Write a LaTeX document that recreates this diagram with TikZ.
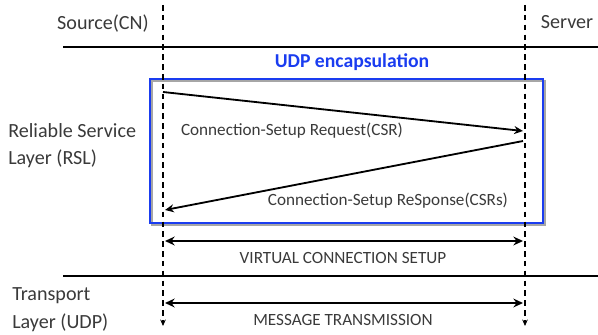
\documentclass[tikz,border=0pt]{standalone}
\usepackage{fontspec}
\setmainfont{Carlito}
\usepackage{tikz}
\usetikzlibrary{positioning,arrows.meta,calc}
\definecolor{txtgray}{HTML}{3A3A3A}
\definecolor{encblue}{HTML}{1A3CF0}
\tikzset{
  lifeline/.style={line width=1.4pt, dash pattern=on 4pt off 3pt, -{Stealth[length=1.6mm,width=1.4mm]}},
  layerline/.style={line width=0.8pt},
  msgarrow/.style={-{Stealth[length=2.2mm,width=2mm]}, line width=1.3pt},
  spanarrow/.style={{Stealth[length=2.4mm,width=2.2mm]}-{Stealth[length=2.4mm,width=2.2mm]}},
  sidelabel/.style={anchor=west, text=txtgray, font=\fontsize{14.3}{16}\selectfont, inner sep=0pt},
  headlabel/.style={text=txtgray, font=\fontsize{14.3}{16}\selectfont, inner sep=0pt},
  figlabel/.style={text=txtgray, font=\fontsize{12.2}{14}\selectfont, inner sep=0pt},
}
\begin{document}
\begin{tikzpicture}
  \useasboundingbox (0,0) rectangle (14.95,-8.375);
  % lifelines
  \coordinate (srcTop) at (4.075,-0.125);
  \coordinate (srcBot) at (4.075,-8.15);
  \coordinate (srvTop) at (13.125,-0.125);
  \coordinate (srvBot) at (13.125,-8.15);
  % layer separators
  \coordinate (sepAl) at (1.575,-1.175);
  \coordinate (sepAr) at (14.95,-1.175);
  \coordinate (sepBl) at (1.575,-6.9);
  \coordinate (sepBr) at (14.95,-6.9);
  \draw[layerline] (sepAl) -- (sepAr);
  \draw[layerline] (sepBl) -- (sepBr);
  % UDP box
  \coordinate (boxSW) at (3.75,-5.575);
  \coordinate (boxNE) at (13.575,-1.975);
  \draw[black!35, line width=1.6pt] ($(boxSW)+(0.05,-0.05)$) rectangle ($(boxNE)+(0.05,-0.05)$);
  \draw[encblue, line width=1.6pt] (boxSW) rectangle (boxNE);
  \node[text=encblue, font=\fontsize{14}{16}\selectfont\bfseries, inner sep=0pt] (udp) at (8.8,-1.55) {UDP encapsulation};
  \draw[lifeline] (srcTop) -- (srcBot);
  \draw[lifeline] (srvTop) -- (srvBot);
  % headers
  \node[headlabel] (src) at (2.575,-0.6) {Source(CN)};
  \node[headlabel] (srv) at (14.175,-0.55) {Server};
  \node[sidelabel] (rsl1) at (0.2,-3.275) {Reliable Service};
  \node[sidelabel] (rsl2) at (0.2,-3.975) {Layer (RSL)};
  \node[sidelabel] (udp1) at (0.3,-7.4) {Transport};
  \node[sidelabel] (udp2) at (0.3,-8.075) {Layer (UDP)};
  % messages
  \coordinate (csrA) at (4.075,-2.3);
  \coordinate (csrB) at (13.075,-3.275);
  \coordinate (rspA) at (13.075,-3.525);
  \coordinate (rspB) at (4.125,-5.25);
  \draw[msgarrow] (csrA) -- (csrB);
  \draw[msgarrow] (rspA) -- (rspB);
  \node[figlabel] (csr) at (7.3,-3.275) {Connection-Setup Request(CSR)};
  \node[figlabel] (rsp) at (9.7,-5.025) {Connection-Setup ReSponse(CSRs)};
  % spans
  \coordinate (vcsA) at (4.125,-6.025);
  \coordinate (vcsB) at (13.075,-6.025);
  \coordinate (msgA) at (4.125,-7.575);
  \coordinate (msgB) at (13.075,-7.575);
  \draw[spanarrow, line width=1.3pt] (vcsA) -- (vcsB);
  \draw[spanarrow, line width=2pt] (msgA) -- (msgB);
  \node[figlabel] (vcs) at (8.575,-6.45) {VIRTUAL CONNECTION SETUP};
  \node[figlabel] (msg) at (8.575,-8.0) {MESSAGE TRANSMISSION};
\end{tikzpicture}
\end{document}
